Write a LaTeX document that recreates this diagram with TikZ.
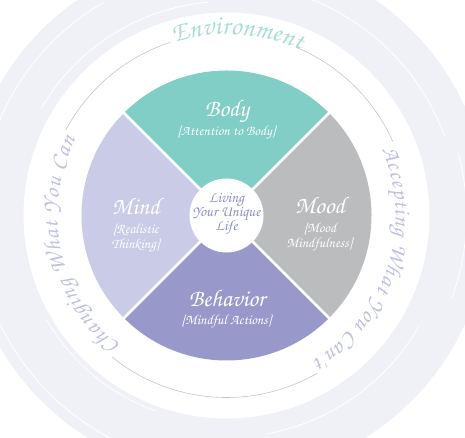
\documentclass[tikz,border=0pt]{standalone}
\usepackage{fontspec}
\newfontfamily\handfont{TeX Gyre Chorus}
\usetikzlibrary{decorations.text}
\definecolor{bodycol}{RGB}{128,206,197}
\definecolor{moodcol}{RGB}{187,188,190}
\definecolor{behavcol}{RGB}{152,152,202}
\definecolor{mindcol}{RGB}{202,203,230}
\definecolor{lifecol}{RGB}{140,140,200}
\definecolor{envcol}{RGB}{168,222,214}
\definecolor{sidecol}{RGB}{192,192,226}
\definecolor{ringcol}{RGB}{196,196,196}
\definecolor{brushcol}{RGB}{240,240,247}
\tikzset{
    title/.style={anchor=base, text=white, font=\handfont\fontsize{24}{24}\selectfont},
    sub/.style={anchor=base, text=white, font=\handfont\fontsize{14}{14}\selectfont},
    life/.style={anchor=base, text=lifecol, font=\handfont\fontsize{15}{15}\selectfont},
}

\begin{document}
\begin{tikzpicture}[x=1pt,y=1pt]
    \clip (0,0) rectangle (465,438);
    \coordinate (c) at (226.5,222.5);
    \fill[brushcol,even odd rule] (c) circle (262) (c) circle (203);
    \foreach \r/\s/\e in {214/95/150, 232/20/75, 251/200/250, 222/-80/-30, 246/120/170, 208/-150/-110, 240/-20/15}
        \draw[white,line width=0.8] (c) ++(\s:\r) arc[start angle=\s,end angle=\e,radius=\r];
    \fill[bodycol] (c) -- ++(45:145) arc[start angle=45,end angle=135,radius=145] -- cycle;
    \fill[mindcol] (c) -- ++(135:145) arc[start angle=135,end angle=225,radius=145] -- cycle;
    \fill[behavcol] (c) -- ++(225:145) arc[start angle=225,end angle=315,radius=145] -- cycle;
    \fill[moodcol] (c) -- ++(-45:145) arc[start angle=-45,end angle=45,radius=145] -- cycle;
    \foreach \a in {45,135,225,315}
        \draw[white,line width=2.5] (c) -- ++(\a:147);
    \fill[white] (c) circle (37);
    \draw[ringcol,line width=0.6] (c) ++(108:182) arc[start angle=108,end angle=152,radius=182];
    \draw[ringcol,line width=0.6] (c) ++(231:182) arc[start angle=231,end angle=300,radius=182];
    \draw[ringcol,line width=0.6] (c) ++(24:182) arc[start angle=24,end angle=67,radius=182];
    \path[decorate,decoration={text along path,text align=fit to path,
        text={|\handfont\fontsize{27}{27}\selectfont\color{envcol}|Environment}}]
        (c) ++(107:181) arc[start angle=107,end angle=66,radius=181];
    \path[decorate,decoration={text along path,text align=fit to path,
        text={|\handfont\fontsize{23}{23}\selectfont\color{sidecol}|Accepting What You Can't}}]
        (c) ++(23:169) arc[start angle=23,end angle=-59,radius=169];
    \path[decorate,decoration={text along path,text align=fit to path,
        text={|\handfont\fontsize{23}{23}\selectfont\color{sidecol}|Changing What You Can}}]
        (c) ++(231:169) arc[start angle=231,end angle=153,radius=169];
    \node[title] (body) at (227,321) {Body};
    \node[sub] (bodysub) at (227,302) {[Attention to Body]};
    \node[title] (mind) at (136,223.7) {Mind};
    \node[sub] (mindsub) at (136,204.7) {[Realistic};
    \node[sub] (mindsubb) at (136,189.7) {Thinking]};
    \node[title] (mood) at (320,224) {Mood};
    \node[sub] (moodsub) at (320,205) {[Mood};
    \node[sub] (moodsubb) at (320,190) {Mindfulness]};
    \node[title] (behav) at (227,131.3) {Behavior};
    \node[sub] (behavsub) at (227,113.7) {[Mindful Actions]};
    \node[life] (living) at (226.5,235.3) {Living};
    \node[life] (unique) at (226.5,221.3) {Your Unique};
    \node[life] (lifeln) at (226.5,207) {Life};
\end{tikzpicture}
\end{document}
